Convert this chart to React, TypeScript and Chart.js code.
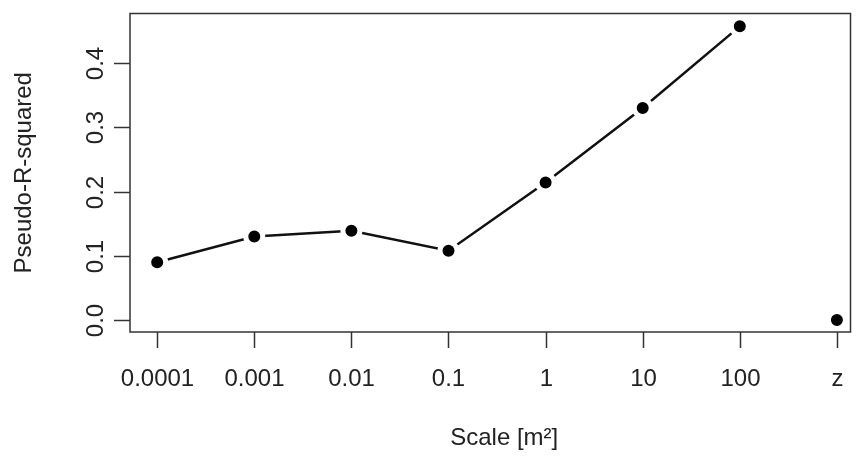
import React, { useEffect, useRef } from "react";
import { Chart, registerables } from "chart.js";
Chart.register(...registerables);

const categories = ["0.0001", "0.001", "0.01", "0.1", "1", "10", "100", "z"];
const lineValues = [0.09, 0.13, 0.139, 0.108, 0.214, 0.33, 0.457];
const zValue = 0;
const yTicks = [0, 0.1, 0.2, 0.3, 0.4];
const yTickLabels = ["0.0", "0.1", "0.2", "0.3", "0.4"];

const FONT = "24px 'Liberation Sans', Arial, sans-serif";

const axesPlugin = {
  id: "rAxes",
  afterDraw(chart: any) {
    const { ctx, chartArea: a, scales } = chart;
    const xs = scales.x, ys = scales.y;
    ctx.save();
    ctx.strokeStyle = "#333";
    ctx.lineWidth = 1.5;
    ctx.strokeRect(a.left, a.top, a.right - a.left, a.bottom - a.top);
    ctx.fillStyle = "#222";
    ctx.font = FONT;
    ctx.textAlign = "center";
    ctx.textBaseline = "middle";
    categories.forEach((c, i) => {
      const x = Math.round(xs.getPixelForValue(i)) + 0.5;
      ctx.beginPath(); ctx.moveTo(x, a.bottom); ctx.lineTo(x, a.bottom + 16); ctx.stroke();
      ctx.fillText(c, x, 379);
    });
    yTicks.forEach((v, i) => {
      const y = Math.round(ys.getPixelForValue(v)) + 0.5;
      ctx.beginPath(); ctx.moveTo(a.left, y); ctx.lineTo(a.left - 16, y); ctx.stroke();
      ctx.save(); ctx.translate(96, y); ctx.rotate(-Math.PI / 2);
      ctx.fillText(yTickLabels[i], 0, 0); ctx.restore();
    });
    ctx.fillText("Scale [m²]", (a.left + a.right) / 2 + 14, 438);
    ctx.save(); ctx.translate(24, (a.top + a.bottom) / 2); ctx.rotate(-Math.PI / 2);
    ctx.fillText("Pseudo-R-squared", 0, 0); ctx.restore();
    ctx.restore();
  },
};

export default function App() {
  const ref = useRef<HTMLCanvasElement>(null);
  useEffect(() => {
    const chart = new Chart(ref.current!, {
      type: "scatter",
      data: {
        datasets: [
          {
            data: lineValues.map((v, i) => ({ x: i, y: v })),
            showLine: true,
            borderColor: "#111",
            borderWidth: 2.5,
            pointRadius: 8.5,
            pointBorderWidth: 5,
            pointBackgroundColor: "#000",
            pointBorderColor: "#fff",
          },
          {
            data: [{ x: 7, y: zValue }],
            showLine: false,
            pointRadius: 8.5,
            pointBorderWidth: 5,
            pointBackgroundColor: "#000",
            pointBorderColor: "#fff",
          },
        ],
      },
      options: {
        animation: false,
        responsive: false,
        layout: { padding: { left: 130, top: 10, right: 6, bottom: 124 } },
        plugins: { legend: { display: false }, tooltip: { enabled: false } },
        scales: {
          x: { type: "linear", display: false, min: -0.28, max: 7.14 },
          y: { type: "linear", display: false, min: -0.0185, max: 0.477 },
        },
      },
      plugins: [axesPlugin],
    });
    return () => chart.destroy();
  }, []);
  return (
    <canvas ref={ref} width={864} height={456}
      style={{ position: "absolute", left: 0, top: 0, background: "#fff" }} />
  );
}
